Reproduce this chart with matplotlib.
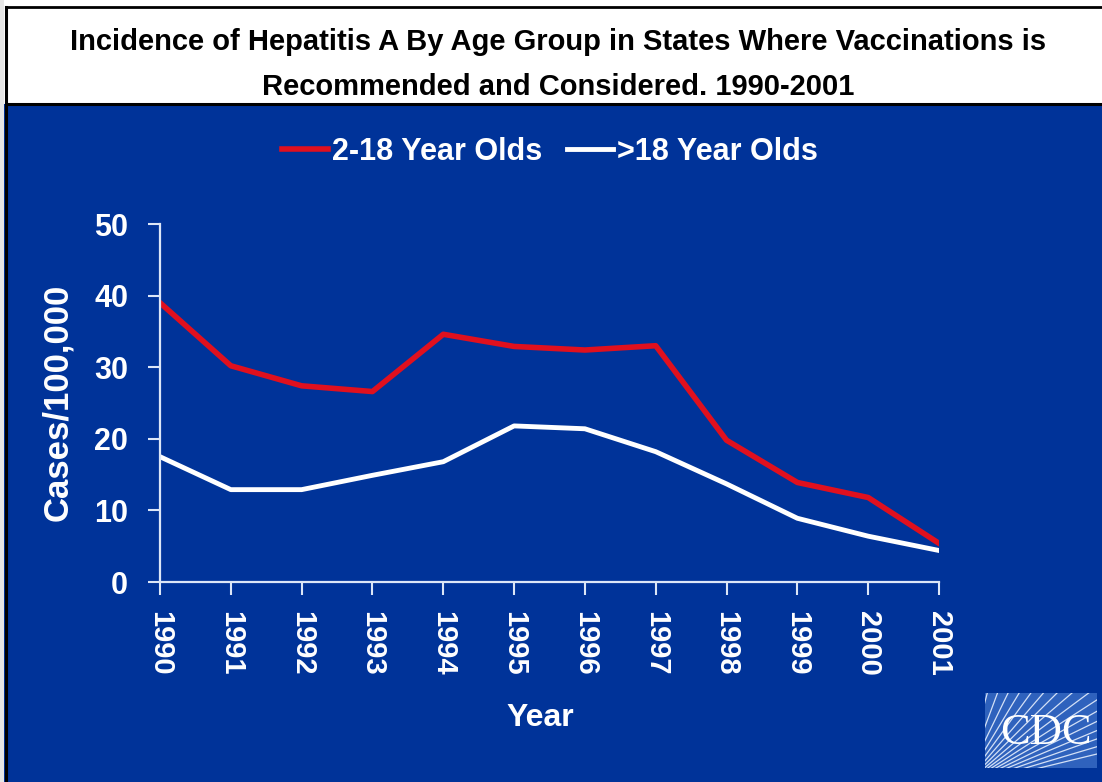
import numpy as np
import matplotlib
matplotlib.use("Agg")
import matplotlib.pyplot as plt
from matplotlib.patches import Rectangle
from matplotlib.lines import Line2D

# data
years = [1990, 1991, 1992, 1993, 1994, 1995, 1996, 1997, 1998, 1999, 2000, 2001]
kids = [39.0, 30.2, 27.4, 26.6, 34.6, 32.9, 32.4, 33.0, 19.8, 13.9, 11.8, 5.4]
adults = [17.5, 12.9, 12.9, 14.9, 16.8, 21.8, 21.4, 18.2, 13.7, 8.9, 6.4, 4.4]
y_ticks = [0, 10, 20, 30, 40, 50]
series_names = ["2-18 Year Olds", ">18 Year Olds"]

blue = "#003399"
axis_col = "#dce6f7"
red = "#e0101e"
fam = ["Liberation Sans", "DejaVu Sans"]

W, H = 1102, 782
fig = plt.figure(figsize=(W / 100, H / 100), dpi=100)
fig.patch.set_facecolor("white")

# blue slide area + black frame lines
fig.patches.append(Rectangle((0, 0), 1, 1 - 104 / H, transform=fig.transFigure,
                             facecolor=blue, edgecolor="none", zorder=-10))
fig.patches.append(Rectangle((0, 0), 4 / W, 1, transform=fig.transFigure,
                             facecolor="#e6e6e6", edgecolor="none", zorder=-10))
fig.lines.append(Line2D([6 / W, 6 / W], [0, 1 - 7 / H], transform=fig.transFigure,
                        color="black", lw=2.2, zorder=-5))
fig.lines.append(Line2D([6 / W, 1], [1 - 7 / H, 1 - 7 / H], transform=fig.transFigure,
                        color="black", lw=2.0, zorder=-5))
fig.lines.append(Line2D([6 / W, 1], [1 - 104 / H, 1 - 104 / H], transform=fig.transFigure,
                        color="black", lw=2.2, zorder=-5))

# title
fig.text(558 / W, 1 - 42 / H, "Incidence of Hepatitis A By Age Group in States Where Vaccinations is",
         ha="center", va="center", fontsize=21, fontweight="bold", family=fam, color="black")
fig.text(558 / W, 1 - 87 / H, "Recommended and Considered. 1990-2001",
         ha="center", va="center", fontsize=21, fontweight="bold", family=fam, color="black")

ax = fig.add_axes([160 / W, 1 - 582 / H, 779 / W, 358 / H])
ax.set_facecolor("none")
l1, = ax.plot(years, kids, color=red, lw=4.0, solid_joinstyle="round")
l2, = ax.plot(years, adults, color="white", lw=3.5, solid_joinstyle="round")

ax.set_xlim(1990, 2001)
ax.set_ylim(0, 50)
ax.set_xticks(years)
ax.set_yticks(y_ticks)
for s in ["top", "right"]:
    ax.spines[s].set_visible(False)
for s in ["left", "bottom"]:
    ax.spines[s].set_color(axis_col)
    ax.spines[s].set_linewidth(1.6)
ax.tick_params(axis="both", direction="out", length=9, width=1.5, color=axis_col)
ax.tick_params(axis="y", pad=14)
ax.tick_params(axis="x", pad=12)
for t in ax.get_yticklabels():
    t.set_fontsize(22)
    t.set_fontweight("bold")
    t.set_family(fam)
    t.set_color("white")
for t in ax.get_xticklabels():
    t.set_fontsize(21)
    t.set_fontweight("bold")
    t.set_family(fam)
    t.set_color("white")
    t.set_rotation(-90)

fig.text(58 / W, 1 - 402 / H, "Cases/100,000", rotation=90, ha="center", va="center",
         fontsize=25, fontweight="bold", family=fam, color="white")
fig.text(540 / W, 1 - 718 / H, "Year", ha="center", va="center",
         fontsize=23, fontweight="bold", family=fam, color="white")

leg = fig.legend([l1, l2], series_names, loc="center", bbox_to_anchor=(550 / W, 1 - 152 / H),
                 ncol=2, frameon=False, handlelength=1.5, handletextpad=0.15,
                 columnspacing=0.8, prop={"family": fam, "weight": "bold", "size": 22})
for t in leg.get_texts():
    t.set_color("white")

# CDC logo
lax = fig.add_axes([985 / W, 1 - 768 / H, 112 / W, 75 / H])
lax.set_xlim(0, 1)
lax.set_ylim(0, 1)
lax.axis("off")
lax.add_patch(Rectangle((0, 0), 1, 1, facecolor="#2f62bd", edgecolor="none"))
for ang in np.linspace(20, 80, 16):
    a = np.deg2rad(ang)
    lax.plot([-0.2, -0.2 + 3 * np.cos(a)], [-0.25, -0.25 + 3 * np.sin(a)],
             color="#d3e0f6", lw=0.9, clip_on=True)
lax.text(0.54, 0.47, "CDC", ha="center", va="center", fontsize=32,
         family=["Liberation Serif", "DejaVu Serif"], color="white")

fig.savefig("out.png", dpi=100, facecolor=fig.get_facecolor())
